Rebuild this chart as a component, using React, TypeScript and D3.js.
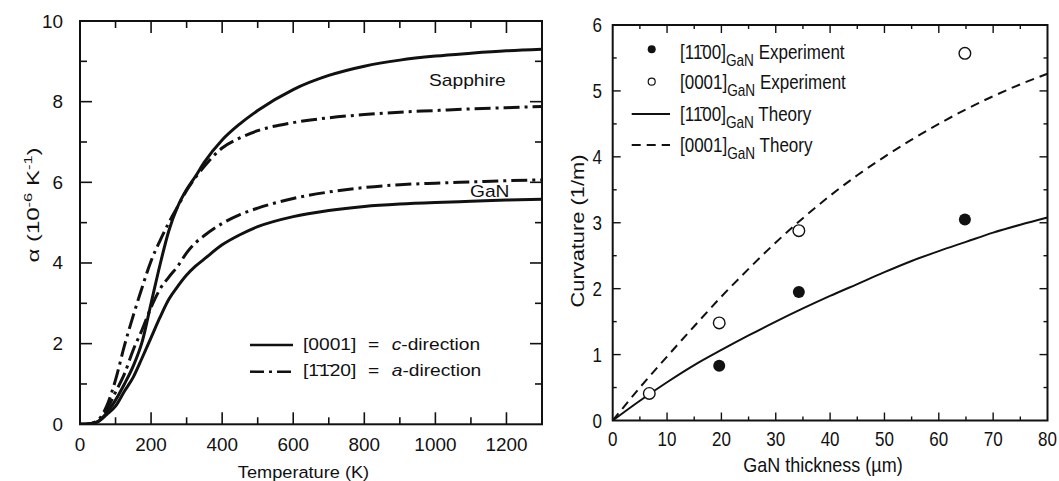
import React from "react";
import * as d3 from "d3";

// ---------- Left panel data: thermal expansion coefficient ----------
const tempK = [0, 25, 50, 75, 100, 125, 150, 175, 200, 225, 250, 275, 300, 325, 350, 400, 450, 500, 600, 700, 800, 900, 1000, 1100, 1200, 1300];
const sapphireC = [0, 0.01, 0.07, 0.28, 0.6, 1.0, 1.45, 2.05, 3.0, 3.95, 4.8, 5.4, 5.82, 6.15, 6.5, 7.05, 7.45, 7.78, 8.3, 8.65, 8.88, 9.03, 9.13, 9.2, 9.26, 9.3];
const sapphireA = [0, 0.01, 0.1, 0.45, 1.1, 1.95, 2.7, 3.4, 4.05, 4.55, 5.0, 5.4, 5.8, 6.12, 6.4, 6.85, 7.1, 7.28, 7.48, 7.6, 7.68, 7.74, 7.78, 7.82, 7.85, 7.88];
const ganA = [0, 0.01, 0.08, 0.35, 0.8, 1.25, 1.85, 2.35, 2.9, 3.35, 3.65, 3.92, 4.25, 4.5, 4.68, 4.98, 5.2, 5.36, 5.6, 5.76, 5.87, 5.94, 5.98, 6.01, 6.04, 6.06];
const ganC = [0, 0.01, 0.06, 0.24, 0.45, 0.82, 1.17, 1.65, 2.15, 2.65, 3.1, 3.42, 3.7, 3.92, 4.1, 4.45, 4.7, 4.9, 5.15, 5.3, 5.4, 5.46, 5.5, 5.53, 5.56, 5.58];
const leftXTicks = [0, 200, 400, 600, 800, 1000, 1200];
const leftYTicks = [0, 2, 4, 6, 8, 10];

// ---------- Right panel data: curvature vs GaN thickness ----------
const thicknessUm = [0, 5, 10, 15, 20, 25, 30, 35, 40, 45, 50, 55, 60, 65, 70, 75, 80];
const theory1100 = [0, 0.3, 0.58, 0.84, 1.07, 1.29, 1.5, 1.7, 1.89, 2.07, 2.25, 2.42, 2.57, 2.71, 2.85, 2.97, 3.08];
const theory0001 = [0, 0.5, 0.97, 1.43, 1.88, 2.3, 2.7, 3.07, 3.41, 3.72, 4.0, 4.26, 4.5, 4.72, 4.92, 5.1, 5.26];
const exp1100X = [19.6, 34.25, 64.8];
const exp1100Y = [0.83, 1.95, 3.05];
const exp0001X = [6.73, 19.6, 34.25, 64.8];
const exp0001Y = [0.41, 1.48, 2.88, 5.57];
const rightXTicks = [0, 10, 20, 30, 40, 50, 60, 70, 80];
const rightYTicks = [0, 1, 2, 3, 4, 5, 6];

const FONT = "'Liberation Sans', Arial, Helvetica, sans-serif";

function T({ x, y, size, sx = 1, rot = 0, anchor = "start", weight = "normal", children }: any) {
  return (
    <text
      transform={`translate(${x},${y}) rotate(${rot}) scale(${sx},1)`}
      fontSize={size}
      fontFamily={FONT}
      textAnchor={anchor}
      fontWeight={weight}
      fill="#111"
    >
      {children}
    </text>
  );
}

export default function App() {
  // left scales
  const lx = d3.scaleLinear().domain([0, 1300]).range([80, 542]);
  const ly = d3.scaleLinear().domain([0, 10]).range([424.3, 21]);
  // right scales
  const rx = d3.scaleLinear().domain([0, 80]).range([612.7, 1047.5]);
  const ry = d3.scaleLinear().domain([0, 6]).range([420.5, 25]);

  const lLine = (ys: number[]) =>
    d3.line<number>().x((_, i) => lx(tempK[i])).y((v) => ly(v)).curve(d3.curveMonotoneX)(ys) as string;
  const rLine = (ys: number[]) =>
    d3.line<number>().x((_, i) => rx(thicknessUm[i])).y((v) => ry(v)).curve(d3.curveMonotoneX)(ys) as string;

  const lMinorX = d3.range(100, 1300, 100);
  const lMinorY = d3.range(1, 10, 1);
  const rMinorX = d3.range(5, 80, 5);
  const rMinorY = d3.range(0.5, 6, 0.5);

  const [lx0, lx1] = lx.range();
  const [ly0, ly1] = ly.range();
  const [rx0, rx1] = rx.range();
  const [ry0, ry1] = ry.range();

  const dashDot = "16,5,3,5";

  return (
    <svg width={1059} height={481} style={{ position: "absolute", left: 0, top: 0, background: "#fff" }}>
      <defs>
        <clipPath id="lclip">
          <rect x={lx0} y={ly1} width={lx1 - lx0} height={ly0 - ly1} />
        </clipPath>
        <clipPath id="rclip">
          <rect x={rx0} y={ry1} width={rx1 - rx0} height={ry0 - ry1} />
        </clipPath>
      </defs>

      {/* ================= LEFT PANEL ================= */}
      <g stroke="#111" strokeWidth={1.6}>
        {lMinorX.map((v) => (
          <g key={"lmx" + v}>
            <line x1={lx(v)} x2={lx(v)} y1={ly0} y2={ly0 - (v % 200 === 0 ? 12 : 7)} />
            <line x1={lx(v)} x2={lx(v)} y1={ly1} y2={ly1 + (v % 200 === 0 ? 12 : 7)} />
          </g>
        ))}
        {lMinorY.map((v) => (
          <g key={"lmy" + v}>
            <line x1={lx0} x2={lx0 + (v % 2 === 0 ? 12 : 7)} y1={ly(v)} y2={ly(v)} />
            <line x1={lx1} x2={lx1 - (v % 2 === 0 ? 12 : 7)} y1={ly(v)} y2={ly(v)} />
          </g>
        ))}
      </g>
      <g clipPath="url(#lclip)" fill="none" stroke="#111" strokeWidth={3}>
        <path d={lLine(ganC)} />
        <path d={lLine(ganA)} strokeDasharray={dashDot} />
        <path d={lLine(sapphireA)} strokeDasharray={dashDot} />
        <path d={lLine(sapphireC)} />
      </g>
      <rect x={lx0} y={ly1} width={lx1 - lx0} height={ly0 - ly1} fill="none" stroke="#111" strokeWidth={2} />

      {leftXTicks.map((v) => (
        <T key={"lxt" + v} x={lx(v)} y={451} size={18} sx={1.05} anchor="middle">{v}</T>
      ))}
      {leftYTicks.map((v) => (
        <T key={"lyt" + v} x={63} y={ly(v) + 6.5} size={18} sx={1.05} anchor="end">{v}</T>
      ))}
      <T x={303.5} y={478} size={17} sx={1.07} anchor="middle">Temperature (K)</T>
      <T x={38.5} y={205} size={16} sx={1.5} rot={-90} anchor="middle">
        α (10<tspan fontSize={11} dy={-7}>-6</tspan><tspan dy={7}> K</tspan><tspan fontSize={11} dy={-7}>-1</tspan><tspan dy={7}>)</tspan>
      </T>

      <T x={429} y={86} size={16} sx={1.2}>Sapphire</T>
      <T x={470} y={197} size={16} sx={1.2}>GaN</T>

      {/* left legend */}
      <line x1={250} x2={293} y1={345} y2={345} stroke="#111" strokeWidth={2.5} />
      <line x1={250} x2={293} y1={371.7} y2={371.7} stroke="#111" strokeWidth={2.5} strokeDasharray="14,5,3,5" />
      <T x={303} y={349.5} size={16} sx={1.2}>[0001]</T>
      <T x={368} y={349.5} size={16} sx={1.2}>=</T>
      <T x={391.7} y={349.5} size={16} sx={1.2}><tspan fontStyle="italic">c</tspan>-direction</T>
      <T x={303} y={376} size={16} sx={1.2}>[1̄1̄20]</T>
      <T x={368} y={376} size={16} sx={1.2}>=</T>
      <T x={391.7} y={376} size={16} sx={1.2}><tspan fontStyle="italic">a</tspan>-direction</T>

      {/* ================= RIGHT PANEL ================= */}
      <g stroke="#111" strokeWidth={1.4}>
        {rMinorX.map((v) => (
          <g key={"rmx" + v}>
            <line x1={rx(v)} x2={rx(v)} y1={ry0} y2={ry0 - (v % 10 === 0 ? 8 : 4)} />
            <line x1={rx(v)} x2={rx(v)} y1={ry1} y2={ry1 + (v % 10 === 0 ? 8 : 4)} />
          </g>
        ))}
        {rMinorY.map((v) => (
          <g key={"rmy" + v}>
            <line x1={rx0} x2={rx0 + (v % 1 === 0 ? 8 : 4)} y1={ry(v)} y2={ry(v)} />
            <line x1={rx1} x2={rx1 - (v % 1 === 0 ? 8 : 4)} y1={ry(v)} y2={ry(v)} />
          </g>
        ))}
      </g>
      <g clipPath="url(#rclip)" fill="none" stroke="#111" strokeWidth={2}>
        <path d={rLine(theory1100)} />
        <path d={rLine(theory0001)} strokeDasharray="9,6" />
      </g>
      <rect x={rx0} y={ry1} width={rx1 - rx0} height={ry0 - ry1} fill="none" stroke="#111" strokeWidth={2} />
      {exp0001X.map((v, i) => (
        <circle key={"o" + i} cx={rx(v)} cy={ry(exp0001Y[i])} r={5.8} fill="#fff" stroke="#111" strokeWidth={1.4} />
      ))}
      {exp1100X.map((v, i) => (
        <circle key={"f" + i} cx={rx(v)} cy={ry(exp1100Y[i])} r={6} fill="#111" />
      ))}

      {rightXTicks.map((v) => (
        <T key={"rxt" + v} x={rx(v)} y={446} size={20} sx={0.85} anchor="middle">{v}</T>
      ))}
      {rightYTicks.map((v) => (
        <T key={"ryt" + v} x={602} y={ry(v) + 7} size={20} sx={0.85} anchor="end">{v}</T>
      ))}
      <T x={823} y={472} size={20} sx={0.9} anchor="middle">GaN thickness (µm)</T>
      <T x={584} y={231} size={19} sx={1.15} rot={-90} anchor="middle">Curvature (1/m)</T>

      {/* right legend */}
      <circle cx={651.7} cy={49.3} r={4} fill="#111" />
      <circle cx={651.7} cy={81.7} r={3.5} fill="#fff" stroke="#111" strokeWidth={1.2} />
      <line x1={631.7} x2={670} y1={114} y2={114} stroke="#111" strokeWidth={2} />
      <line x1={631.7} x2={670} y1={145} y2={145} stroke="#111" strokeWidth={2} strokeDasharray="9,6" />
      {[
        { y: 59, lab: "[11̄00]", tail: " Experiment" },
        { y: 89, lab: "[0001]", tail: " Experiment" },
        { y: 121, lab: "[11̄00]", tail: " Theory" },
        { y: 152, lab: "[0001]", tail: " Theory" },
      ].map((r, i) => (
        <T key={"leg" + i} x={680} y={r.y} size={20} sx={0.85}>
          {r.lab}
          <tspan fontSize={16} dy={7}>GaN</tspan>
          <tspan dy={-7}>{r.tail}</tspan>
        </T>
      ))}
    </svg>
  );
}
